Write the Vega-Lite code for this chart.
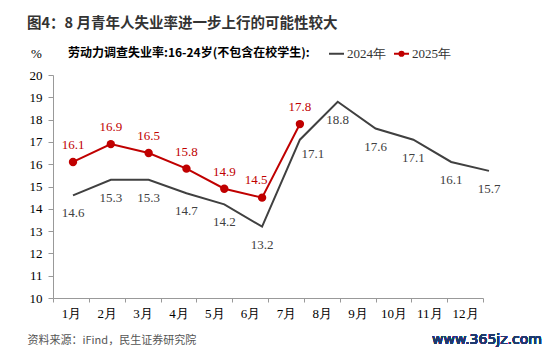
{
  "$schema": "https://vega.github.io/schema/vega-lite/v6.json",
  "width": 430,
  "height": 223,
  "autosize": {"type": "none"},
  "padding": {"left": 53, "top": 75, "right": 67, "bottom": 54},
  "background": "white",
  "config": {
    "view": {"stroke": null},
    "font": "Liberation Serif",
    "axis": {"labelFont": "Liberation Serif", "titleFont": "Liberation Serif", "labelFontSize": 13, "labelColor": "#000000", "tickColor": "#999999", "domainColor": "#999999", "grid": false},
    "axisY": {"labelOverlap": false, "tickSize": 5, "labelPadding": 6}
  },
  "title": {
    "text": "图4：8 月青年人失业率进一步上行的可能性较大",
    "anchor": "start",
    "frame": "group",
    "font": "Noto Sans CJK SC",
    "fontSize": 14.5,
    "fontWeight": "bold",
    "color": "#333333",
    "dx": -26,
    "offset": 14
  },
  "datasets": {
    "d": [
      {"month": "1月", "series": "2024年", "value": 14.6},
      {"month": "2月", "series": "2024年", "value": 15.3},
      {"month": "3月", "series": "2024年", "value": 15.3},
      {"month": "4月", "series": "2024年", "value": 14.7},
      {"month": "5月", "series": "2024年", "value": 14.2},
      {"month": "6月", "series": "2024年", "value": 13.2},
      {"month": "7月", "series": "2024年", "value": 17.1},
      {"month": "8月", "series": "2024年", "value": 18.8},
      {"month": "9月", "series": "2024年", "value": 17.6},
      {"month": "10月", "series": "2024年", "value": 17.1},
      {"month": "11月", "series": "2024年", "value": 16.1},
      {"month": "12月", "series": "2024年", "value": 15.7},
      {"month": "1月", "series": "2025年", "value": 16.1},
      {"month": "2月", "series": "2025年", "value": 16.9},
      {"month": "3月", "series": "2025年", "value": 16.5},
      {"month": "4月", "series": "2025年", "value": 15.8},
      {"month": "5月", "series": "2025年", "value": 14.9},
      {"month": "6月", "series": "2025年", "value": 14.5},
      {"month": "7月", "series": "2025年", "value": 17.8}
    ]
  },
  "resolve": {"scale": {"x": "independent"}, "axis": {"x": "independent", "y": "independent"}},
  "layer": [
    {
      "data": {"name": "d"},
      "mark": {"type": "point", "opacity": 0},
      "encoding": {
        "x": {
          "field": "month",
          "type": "nominal",
          "scale": {"type": "band", "domain": ["1月","2月","3月","4月","5月","6月","7月","8月","9月","10月","11月","12月"], "paddingInner": 0, "paddingOuter": 0},
          "axis": {
            "title": "资料来源：iFind，民生证券研究院",
            "titleFont": "Noto Sans CJK SC",
            "titleFontSize": 11,
            "titleFontWeight": "normal",
            "titleColor": "#555555",
            "titleAnchor": "start",
            "titleAlign": "left",
            "titleBaseline": "middle",
            "titleX": -26,
            "titleY": 42,
            "labelAngle": 0,
            "labelFont": "Liberation Serif",
            "labelFontSize": 13,
            "labelColor": "#000000",
            "labelPadding": 5,
            "labelOverlap": false,
            "tickSize": 4,
            "tickBand": "extent",
            "tickColor": "#999999",
            "domainColor": "#999999",
            "grid": false
          }
        },
        "y": {
          "field": "value",
          "type": "quantitative",
          "scale": {"domain": [10, 20], "zero": false, "nice": false},
          "axis": {
            "values": [10,11,12,13,14,15,16,17,18,19,20],
            "labelOverlap": false,
            "title": "%",
            "titleAngle": 0,
            "titleFont": "Liberation Serif",
            "titleFontSize": 13,
            "titleFontWeight": "normal",
            "titleColor": "#000000",
            "titleAlign": "center",
            "titleBaseline": "middle",
            "titleX": -17,
            "titleY": -22,
            "labelFont": "Liberation Serif",
            "labelFontSize": 13,
            "labelColor": "#000000",
            "labelPadding": 6,
            "tickSize": 5,
            "tickColor": "#999999",
            "domainColor": "#999999",
            "grid": false
          }
        }
      }
    },
    {
      "data": {"name": "d"},
      "encoding": {
        "x": {
          "field": "month",
          "type": "nominal",
          "scale": {"type": "point", "domain": ["1月","2月","3月","4月","5月","6月","7月","8月","9月","10月","11月","12月"], "range": [20, 436], "padding": 0},
          "axis": null
        },
        "y": {"field": "value", "type": "quantitative", "axis": null}
      },
      "layer": [
        {
          "mark": {"type": "line", "strokeWidth": 2},
          "encoding": {
            "color": {
              "field": "series",
              "type": "nominal",
              "scale": {"domain": ["2024年", "2025年"], "range": ["#404040", "#C00000"]},
              "legend": {
                "orient": "none",
                "legendX": 15,
                "legendY": -30,
                "direction": "horizontal",
                "title": "劳动力调查失业率:16-24岁(不包含在校学生):",
                "titleOrient": "left",
                "titleFont": "Noto Sans CJK SC",
                "titleFontSize": 12,
                "titleFontWeight": "bold",
                "titleColor": "#000000",
                "titlePadding": 18,
                "titleLimit": 400,
                "titleBaseline": "middle",
                "labelFont": "Liberation Serif",
                "labelFontSize": 13,
                "labelColor": "#333333",
                "labelOffset": 2,
                "columnPadding": 4,
                "symbolSize": 225,
                "symbolStrokeWidth": 2,
                "encode": {
                  "symbols": {
                    "update": {
                      "shape": {"signal": "datum.value === '2025年' ? 'M-1,0H1M-0.28,0A0.28,0.28,0,1,0,0.28,0A0.28,0.28,0,1,0,-0.28,0' : 'M-1,0H1'"},
                      "fill": {"signal": "datum.value === '2025年' ? '#C00000' : 'transparent'"}
                    }
                  }
                }
              }
            }
          }
        },
        {
          "transform": [{"filter": "datum.series === '2025年'"}],
          "mark": {"type": "point", "filled": true, "size": 70, "opacity": 1, "color": "#C00000"}
        },
        {
          "transform": [{"filter": "datum.series === '2025年' && datum.month !== '6月'"}],
          "mark": {"type": "text", "dy": -17, "font": "Liberation Serif", "fontSize": 13, "color": "#C00000"},
          "encoding": {"text": {"field": "value", "type": "quantitative", "format": ".1f"}}
        },
        {
          "transform": [{"filter": "datum.series === '2025年' && datum.month === '6月'"}],
          "mark": {"type": "text", "dx": -6, "dy": -18, "font": "Liberation Serif", "fontSize": 13, "color": "#C00000"},
          "encoding": {"text": {"field": "value", "type": "quantitative", "format": ".1f"}}
        },
        {
          "transform": [{"filter": "datum.series === '2024年' && datum.month !== '7月'"}],
          "mark": {"type": "text", "dy": 18, "font": "Liberation Serif", "fontSize": 13, "color": "#404040"},
          "encoding": {"text": {"field": "value", "type": "quantitative", "format": ".1f"}}
        },
        {
          "transform": [{"filter": "datum.series === '2024年' && datum.month === '7月'"}],
          "mark": {"type": "text", "dx": 13, "dy": 14, "font": "Liberation Serif", "fontSize": 13, "color": "#404040"},
          "encoding": {"text": {"field": "value", "type": "quantitative", "format": ".1f"}}
        },
        {
          "mark": {"type": "text", "text": "www.365jz.com", "font": "DejaVu Sans", "fontSize": 14, "color": "#1F3A6E", "align": "center", "baseline": "middle", "dx": -2},
          "encoding": {
            "x": {"datum": "12月"},
            "y": {"datum": 8.12}
          }
        }
      ]
    },
    {
      "mark": {"type": "rule", "color": "#333333", "strokeWidth": 1.5},
      "encoding": {
        "x": {"datum": -0.0814, "type": "quantitative", "scale": {"domain": [0, 1], "nice": false, "zero": false}, "axis": null},
        "x2": {"datum": 1.079},
        "y": {"datum": 21.97, "axis": null}
      }
    },
    {
      "mark": {"type": "rule", "color": "#333333", "strokeWidth": 1.5},
      "encoding": {
        "x": {"datum": -0.0814, "type": "quantitative", "scale": {"domain": [0, 1], "nice": false, "zero": false}, "axis": null},
        "x2": {"datum": 1.079},
        "y": {"datum": 8.7, "axis": null}
      }
    }
  ]
}
